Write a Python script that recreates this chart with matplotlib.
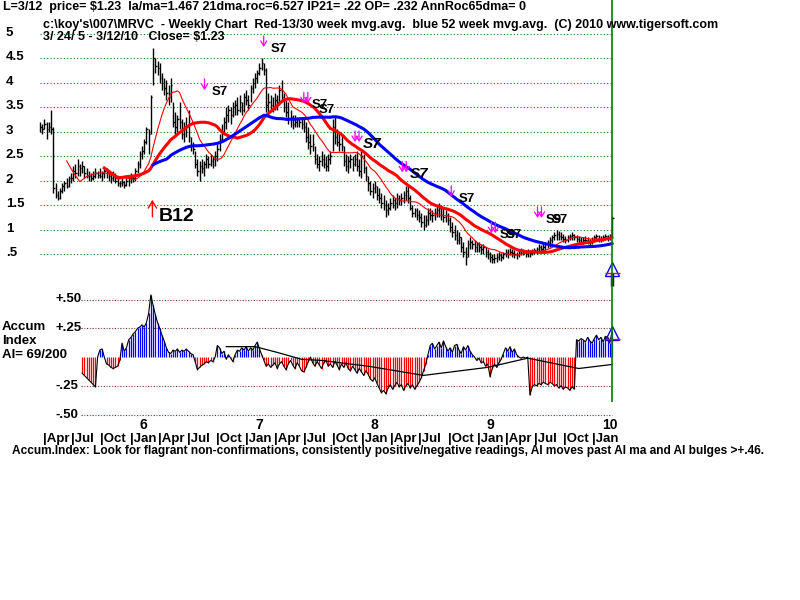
import numpy as np
import pandas as pd
import matplotlib
matplotlib.use("Agg")
import matplotlib.pyplot as plt
import matplotlib.transforms as mtransforms

plt.rcParams['font.family'] = ['Liberation Sans', 'DejaVu Sans']
plt.rcParams['font.weight'] = 'bold'

# weekly bars, 3/24/05 - 3/12/10
start = pd.Timestamp('2005-03-24')

highs = [
    3.20, 3.15, 3.25, 3.20, 3.20, 3.45, 3.10, 1.95, 1.80, 1.85,
    1.95, 2.00, 2.05, 2.10, 2.15, 2.30, 2.35, 2.45, 2.35, 2.40,
    2.30, 2.25, 2.20, 2.15, 2.20, 2.25, 2.20, 2.25, 2.20, 2.25,
    2.25, 2.20, 2.15, 2.20, 2.15, 2.05, 2.00, 2.05, 2.00, 2.05,
    2.10, 2.15, 2.10, 2.25, 2.40, 2.60, 2.70, 2.85, 3.10, 3.05,
    3.75, 4.70, 4.50, 4.45, 4.40, 4.20, 4.10, 4.05, 3.95, 4.10,
    3.60, 3.40, 3.35, 3.60, 3.25, 3.20, 3.30, 3.45, 2.90, 2.80,
    2.60, 2.45, 2.40, 2.45, 2.40, 2.55, 2.50, 2.55, 2.50, 2.60,
    2.75, 2.95, 3.15, 3.30, 3.50, 3.55, 3.50, 3.60, 3.65, 3.70,
    3.75, 3.60, 3.80, 3.85, 3.75, 3.95, 4.10, 4.20, 4.25, 4.40,
    4.50, 4.40, 4.30, 3.80, 3.75, 3.70, 3.80, 3.75, 3.95, 4.05,
    3.80, 3.65, 3.60, 3.45, 3.35, 3.35, 3.30, 3.30, 3.30, 3.25,
    3.20, 3.10, 2.95, 2.95, 2.70, 2.55, 2.50, 2.60, 2.55, 2.50,
    2.55, 2.60, 3.25, 3.30, 3.05, 3.00, 2.95, 2.70, 2.55, 2.50,
    2.55, 2.50, 2.55, 2.60, 2.45, 2.60, 2.55, 2.30, 2.10, 2.00,
    1.95, 2.00, 1.90, 1.85, 1.75, 1.70, 1.60, 1.55, 1.65, 1.70,
    1.65, 1.75, 1.70, 1.75, 1.80, 1.90, 1.90, 1.70, 1.50, 1.45,
    1.45, 1.40, 1.35, 1.30, 1.30, 1.45, 1.45, 1.40, 1.45, 1.50,
    1.55, 1.50, 1.45, 1.40, 1.35, 1.25, 1.15, 1.10, 1.00, 0.95,
    0.85, 0.75, 0.65, 0.80, 0.85, 0.80, 0.80, 0.75, 0.75, 0.70,
    0.70, 0.65, 0.60, 0.55, 0.50, 0.50, 0.52, 0.55, 0.52, 0.55,
    0.60, 0.60, 0.62, 0.60, 0.58, 0.55, 0.60, 0.62, 0.60, 0.58,
    0.60, 0.58, 0.60, 0.62, 0.65, 0.70, 0.68, 0.72, 0.75, 0.80,
    0.85, 0.90, 0.95, 1.00, 0.98, 0.95, 0.92, 0.88, 0.90, 0.92,
    0.95, 0.92, 0.90, 0.88, 0.85, 0.85, 0.88, 0.85, 0.82, 0.85,
    0.90, 0.92, 0.90, 0.88, 0.90, 0.92, 0.90, 0.92, 1.28]

lows = [
    3.00, 2.95, 3.05, 2.85, 3.00, 2.95, 1.75, 1.65, 1.60, 1.62,
    1.75, 1.80, 1.85, 1.88, 1.95, 2.00, 2.05, 2.10, 2.10, 2.15,
    2.05, 2.05, 2.00, 2.00, 2.02, 2.05, 2.05, 2.05, 2.00, 2.05,
    2.05, 2.00, 1.95, 2.00, 1.95, 1.90, 1.88, 1.90, 1.85, 1.90,
    1.90, 1.95, 1.98, 2.00, 2.15, 2.25, 2.45, 2.55, 2.75, 2.55,
    2.95, 3.95, 4.20, 4.15, 4.00, 3.85, 3.75, 3.65, 3.55, 3.60,
    3.10, 2.95, 3.00, 3.05, 2.85, 2.80, 2.90, 2.80, 2.60, 2.55,
    2.25, 2.10, 2.00, 2.15, 2.10, 2.25, 2.25, 2.30, 2.25, 2.30,
    2.40, 2.60, 2.80, 2.95, 3.05, 3.20, 3.15, 3.30, 3.35, 3.35,
    3.40, 3.35, 3.40, 3.55, 3.45, 3.60, 3.80, 3.90, 4.00, 4.15,
    4.25, 4.15, 3.40, 3.40, 3.45, 3.40, 3.45, 3.45, 3.55, 3.60,
    3.40, 3.30, 3.15, 3.10, 3.05, 3.10, 3.10, 3.10, 3.05, 3.00,
    2.80, 2.65, 2.55, 2.60, 2.35, 2.25, 2.20, 2.30, 2.25, 2.20,
    2.20, 2.35, 2.60, 2.75, 2.70, 2.60, 2.60, 2.30, 2.20, 2.15,
    2.25, 2.20, 2.30, 2.20, 2.10, 2.05, 2.15, 2.00, 1.80, 1.70,
    1.65, 1.75, 1.60, 1.55, 1.45, 1.40, 1.25, 1.30, 1.40, 1.45,
    1.40, 1.45, 1.50, 1.50, 1.55, 1.60, 1.55, 1.40, 1.25, 1.25,
    1.20, 1.15, 1.05, 1.00, 1.05, 1.10, 1.20, 1.15, 1.20, 1.25,
    1.25, 1.20, 1.15, 1.15, 1.10, 0.95, 0.85, 0.80, 0.70, 0.70,
    0.55, 0.45, 0.28, 0.45, 0.60, 0.60, 0.55, 0.55, 0.55, 0.50,
    0.50, 0.45, 0.40, 0.35, 0.32, 0.33, 0.35, 0.38, 0.36, 0.40,
    0.45, 0.42, 0.48, 0.45, 0.42, 0.40, 0.45, 0.48, 0.48, 0.45,
    0.45, 0.45, 0.48, 0.50, 0.50, 0.55, 0.52, 0.55, 0.58, 0.62,
    0.65, 0.72, 0.78, 0.80, 0.80, 0.78, 0.75, 0.72, 0.75, 0.78,
    0.80, 0.78, 0.75, 0.72, 0.70, 0.70, 0.72, 0.70, 0.68, 0.70,
    0.74, 0.78, 0.75, 0.75, 0.76, 0.78, 0.76, 0.80, 0.88]

closes = [
    3.10, 3.05, 3.15, 3.05, 3.10, 3.05, 1.85, 1.70, 1.65, 1.80,
    1.90, 1.95, 1.90, 2.05, 2.05, 2.20, 2.15, 2.30, 2.25, 2.30,
    2.15, 2.10, 2.10, 2.05, 2.10, 2.15, 2.12, 2.10, 2.15, 2.20,
    2.15, 2.10, 2.05, 2.10, 2.00, 1.95, 1.95, 1.98, 1.92, 2.00,
    2.05, 2.05, 2.05, 2.20, 2.35, 2.55, 2.60, 2.80, 3.05, 2.95,
    3.70, 4.50, 4.35, 4.30, 4.10, 4.00, 3.90, 3.80, 3.70, 3.95,
    3.20, 3.10, 3.25, 3.20, 2.95, 3.05, 3.10, 2.90, 2.70, 2.65,
    2.35, 2.20, 2.30, 2.25, 2.35, 2.45, 2.35, 2.40, 2.45, 2.50,
    2.65, 2.85, 3.00, 3.20, 3.35, 3.45, 3.35, 3.50, 3.55, 3.45,
    3.60, 3.45, 3.70, 3.65, 3.55, 3.90, 4.00, 4.10, 4.20, 4.30,
    4.40, 4.25, 3.55, 3.60, 3.55, 3.50, 3.65, 3.60, 3.85, 3.70,
    3.50, 3.40, 3.25, 3.30, 3.15, 3.20, 3.25, 3.20, 3.15, 3.10,
    2.90, 2.80, 2.70, 2.75, 2.45, 2.35, 2.40, 2.45, 2.35, 2.30,
    2.45, 2.50, 3.10, 2.90, 2.80, 2.75, 2.70, 2.40, 2.30, 2.40,
    2.45, 2.35, 2.45, 2.30, 2.20, 2.50, 2.25, 2.10, 1.95, 1.80,
    1.85, 1.90, 1.70, 1.65, 1.55, 1.50, 1.40, 1.45, 1.55, 1.60,
    1.55, 1.65, 1.60, 1.65, 1.70, 1.80, 1.65, 1.45, 1.35, 1.40,
    1.30, 1.25, 1.15, 1.10, 1.20, 1.35, 1.30, 1.30, 1.35, 1.40,
    1.45, 1.30, 1.25, 1.30, 1.20, 1.05, 0.95, 0.90, 0.80, 0.85,
    0.65, 0.55, 0.45, 0.70, 0.75, 0.70, 0.65, 0.70, 0.65, 0.60,
    0.65, 0.55, 0.50, 0.45, 0.40, 0.42, 0.45, 0.48, 0.45, 0.50,
    0.55, 0.50, 0.55, 0.52, 0.50, 0.48, 0.55, 0.58, 0.55, 0.52,
    0.55, 0.52, 0.55, 0.58, 0.60, 0.65, 0.60, 0.65, 0.70, 0.75,
    0.78, 0.85, 0.90, 0.92, 0.88, 0.85, 0.82, 0.80, 0.85, 0.88,
    0.90, 0.85, 0.82, 0.78, 0.75, 0.78, 0.80, 0.76, 0.75, 0.78,
    0.85, 0.88, 0.82, 0.80, 0.85, 0.88, 0.84, 0.88, 1.23]

# Accumulation index, starts at week 19
ai_first_week = 19
ai_vals = [
    -0.14, -0.16, -0.18, -0.20, -0.22, -0.24, -0.26, 0.00, 0.06, 0.07,
    0.00, -0.06, -0.07, -0.09, -0.10, -0.09, -0.08, -0.03, 0.12, 0.05,
    0.08, 0.15, 0.17, 0.20, 0.22, 0.25, 0.26, 0.28, 0.26, 0.30,
    0.38, 0.54, 0.45, 0.37, 0.30, 0.25, 0.19, 0.14, 0.08, 0.04,
    0.03, 0.06, 0.05, 0.07, 0.04, 0.06, 0.05, 0.07, 0.05, 0.03,
    0.02, -0.04, -0.11, -0.09, -0.07, -0.06, -0.04, -0.05, -0.03, -0.04,
    0.00, 0.10, 0.08, 0.03, 0.05, -0.02, 0.02, -0.01, -0.04, 0.02,
    0.06, 0.05, 0.08, 0.06, 0.09, 0.05, 0.08, 0.06, 0.10, 0.13,
    0.07, 0.02, -0.03, -0.08, -0.06, -0.09, -0.07, -0.05, -0.10, -0.06,
    -0.04, -0.08, -0.11, -0.06, -0.03, -0.07, -0.10, -0.05, -0.08, -0.12,
    -0.13, -0.09, -0.04, 0.00, -0.05, -0.08, -0.04, -0.07, -0.10, -0.05,
    -0.03, -0.08, -0.06, -0.09, -0.04, -0.07, -0.11, -0.06, -0.09, -0.05,
    -0.10, -0.12, -0.08, -0.11, -0.14, -0.10, -0.13, -0.16, -0.12, -0.15,
    -0.19, -0.21, -0.18, -0.23, -0.27, -0.31, -0.29, -0.32, -0.27, -0.24,
    -0.28, -0.25, -0.22, -0.26, -0.24, -0.29, -0.25, -0.23, -0.27, -0.24,
    -0.28, -0.25, -0.22, -0.18, -0.12, -0.06, 0.02, 0.10, 0.12, 0.07,
    0.10, 0.13, 0.08, 0.14, 0.09, 0.05, 0.08, 0.04, 0.10, 0.11,
    0.06, 0.03, 0.09, 0.06, 0.10, 0.05, 0.02, 0.00, -0.03, -0.01,
    -0.05, -0.04, -0.08, -0.06, -0.17, -0.10, -0.06, -0.09, -0.05, -0.02,
    0.03, 0.08, 0.05, 0.09, 0.04, 0.07, 0.02, 0.00, -0.01, 0.00,
    -0.01, 0.00, -0.33, -0.26, -0.24, -0.25, -0.23, -0.24, -0.22, -0.23,
    -0.24, -0.22, -0.23, -0.25, -0.24, -0.27, -0.25, -0.28, -0.26, -0.27,
    -0.29, -0.26, -0.28, 0.15, 0.14, 0.16, 0.15, 0.13, 0.17, 0.14,
    0.12, 0.16, 0.19, 0.15, 0.17, 0.13, 0.18, 0.17, 0.12, 0.22]

ai_ma_weeks = [84, 97, 107, 118, 127, 148, 173, 202, 220, 243, 258]
ai_ma_vals = [0.09, 0.09, 0.04, -0.02, -0.03, -0.08, -0.16, -0.09, -0.01, -0.10, -0.065]

price_levels = [5, 4.5, 4, 3.5, 3, 2.5, 2, 1.5, 1, 0.5]
price_labels = ['5', '4.5', '4', '3.5', '3', '2.5', '2', '1.5', '1', '.5']
ai_levels = [0.5, 0.25, -0.25, -0.5]
ai_labels = ['+.50', '+.25', '-.25', '-.50']

# sell / buy signals (week, price)
sig_weeks = [100.9, 74.2, 119.9, 143.0, 164.3, 185.5, 204.5, 225.3]
sig_prices = [4.73, 3.85, 3.58, 2.79, 2.17, 1.67, 0.93, 1.24]
sig_names = ['S7', 'S7', 'S7/S7', 'S7', 'S7', 'S7', 'S9/S7', 'S9/S7']
sig_double = [False, False, True, True, True, False, True, True]
sig_heavy = [False, False, False, True, True, False, False, False]
buy_week, buy_price, buy_name = 50.7, 1.61, 'B12'

price_mark_level = 0.15
ai_mark_level = 0.18

header1 = "L=3/12  price= $1.23  la/ma=1.467 21dma.roc=6.527 IP21= .22 OP= .232 AnnRoc65dma= 0"
header2 = ("c:\\koy's\\007\\MRVC  - Weekly Chart  Red-13/30 week mvg.avg.  "
           "blue 52 week mvg.avg.  (C) 2010 www.tigersoft.com")
header3 = "3/ 24/ 5 - 3/12/10   Close= $1.23"
footer = ("Accum.Index: Look for flagrant non-confirmations, consistently positive/negative "
          "readings, AI moves past AI ma and AI bulges >+.46.")

n = len(closes)
weeks = np.arange(n)
cl = pd.Series(closes)
ma13 = cl.rolling(13).mean()
ma30 = cl.rolling(30).mean()
ma52 = cl.rolling(52).mean()

ai = np.full(n, np.nan)
ai[ai_first_week:] = ai_vals

W, H = 800, 600
pxw = 2.217          # pixels per week
x0 = 40              # pixel of first week
xlim = ((0 - x0) / pxw, (W - x0) / pxw)


def fx(x):
    return x / W


def fy(y):
    return 1 - y / H


def pt(p):
    return p * 0.72


fig = plt.figure(figsize=(8, 6), dpi=100)
fig.patch.set_facecolor('white')

# price panel: y pixel 30..290, 49 px per dollar, $0 at y=278.7
ax = fig.add_axes([0, fy(290), 1, 260 / H])
ax.set_xlim(xlim)
ax.set_ylim((278.7 - 290) / 49, (278.7 - 30) / 49)
ax.axis('off')
ax.patch.set_alpha(0)

ax.hlines(price_levels, 0, n - 1, colors='#008000', lw=0.8, linestyles=(0, (1, 2)))
ax.vlines(weeks, lows, highs, colors='black', lw=1.0)
ax.hlines(closes, weeks, weeks + 0.7, colors='black', lw=1.0)
ax.plot(weeks, ma13, color='#ff0000', lw=0.8)
ax.plot(weeks, ma30, color='#ff0000', lw=2.2)
ax.plot(weeks, ma52, color='#0000ff', lw=2.2)

trans_p = mtransforms.blended_transform_factory(fig.transFigure, ax.transData)
for lv, lb in zip(price_levels, price_labels):
    ax.text(fx(6), lv + 0.02, lb, transform=trans_p, ha='left', va='center',
            fontsize=9.5, fontweight='bold')

for w, p, name, dbl, heavy in zip(sig_weeks, sig_prices, sig_names, sig_double, sig_heavy):
    xs = [w - 0.9, w + 0.9] if dbl else [w]
    for xw in xs:
        ax.annotate('', xy=(xw, p), xytext=(0, pt(11)), textcoords='offset points',
                    arrowprops=dict(arrowstyle='->,head_length=0.35,head_width=0.22',
                                    color='#ff00ff', lw=0.9, shrinkA=0, shrinkB=0))
    parts = name.split('/')
    dx0 = 6 if dbl else 7
    for k, part in enumerate(parts):
        if k == 0:
            dx, dy = dx0, -2
        elif part == parts[0]:
            dx, dy = dx0 + 7, -7
        else:
            dx, dy = dx0 + 6, -2
        ax.annotate(part, xy=(w, p), xytext=(pt(dx), pt(dy)), textcoords='offset points',
                    ha='left', va='center', fontweight='bold',
                    fontsize=11 if heavy else 9.5,
                    fontstyle='italic' if heavy else 'normal')

ax.annotate('', xy=(buy_week, buy_price), xytext=(0, pt(-17)), textcoords='offset points',
            arrowprops=dict(arrowstyle='->,head_length=0.5,head_width=0.3',
                            color='#ff0000', lw=1.0, shrinkA=0, shrinkB=0))
ax.annotate(buy_name, xy=(buy_week, buy_price), xytext=(pt(6), pt(-17)),
            textcoords='offset points', ha='left', va='center',
            fontsize=14, fontweight='bold')

ax.vlines(n - 1, price_mark_level - 0.3, price_mark_level - 0.03, colors='#202020', lw=2.5)
ax.plot([n - 1], [price_mark_level + 0.04], marker='^', ms=10, mfc='none', mec='#0000ff', mew=1.0)
ax.hlines(price_mark_level - 0.03, n - 4, n + 2.5, colors='#ff0000', lw=1.0)

# accumulation index panel: zero at y=357, 115 px per unit
ax2 = fig.add_axes([0, fy(420), 1, 135 / H])
ax2.set_xlim(xlim)
ax2.set_ylim((357 - 420) / 115, (357 - 285) / 115)
ax2.axis('off')
ax2.patch.set_alpha(0)

ax2.hlines(ai_levels, ai_first_week - 0.6, n - 1, colors='#303030', lw=0.8,
           linestyles=(0, (1, 4)))
ax2.hlines(ai_levels, ai_first_week - 0.6, n - 1, colors='#d04040', lw=0.8,
           linestyles=(2.5, (1, 4)))
pos = np.where(ai > 0, ai, np.nan)
neg = np.where(ai < 0, ai, np.nan)
ax2.vlines(weeks, 0, pos, colors='#0000ff', lw=0.9)
ax2.vlines(weeks, 0, neg, colors='#ff0000', lw=0.9)
ax2.plot(weeks, ai, color='black', lw=0.8)
ax2.plot(ai_ma_weeks, ai_ma_vals, color='black', lw=0.9)
ax2.plot([n - 1], [ai_mark_level + 0.03], marker='^', ms=10, mfc='none', mec='#0000ff', mew=1.0)
ax2.hlines(ai_mark_level - 0.02, n - 4, n + 2.5, colors='#ff0000', lw=1.0)

trans_a = mtransforms.blended_transform_factory(fig.transFigure, ax2.transData)
for lv, lb in zip(ai_levels, ai_labels):
    ax2.text(fx(55), lv, lb, transform=trans_a, ha='left', va='center',
             fontsize=9.5, fontweight='bold')

# overlay for the time axis and the right edge line
base = fig.add_axes([0, 0, 1, 1])
base.set_xlim(xlim)
base.set_ylim(H, 0)
base.axis('off')
base.patch.set_alpha(0)
base.vlines(n - 1, 0, 402, colors='#008000', lw=1.2)

months = pd.date_range('2005-04-01', '2010-01-01', freq='QS')
for d in months:
    wk = (d - start).days / 7
    base.text(wk, 439, '|' + d.strftime('%b'), ha='left', va='center',
              fontsize=9.5, fontweight='bold')
    if d.month == 1:
        base.text(wk + 4.5, 425, str(d.year - 2000), ha='left', va='center',
                  fontsize=10, fontweight='bold')

fig.text(fx(3), fy(7), header1, ha='left', va='center', fontsize=9, fontweight='bold')
fig.text(fx(43), fy(25), header2, ha='left', va='center', fontsize=9, fontweight='bold')
fig.text(fx(43), fy(37), header3, ha='left', va='center', fontsize=9, fontweight='bold')
fig.text(fx(2), fy(327), 'Accum', ha='left', va='center', fontsize=9.5, fontweight='bold')
fig.text(fx(2), fy(341), 'Index', ha='left', va='center', fontsize=9.5, fontweight='bold')
fig.text(fx(2), fy(355), 'AI= 69/200', ha='left', va='center', fontsize=9.5, fontweight='bold')
fig.text(fx(12), fy(451), footer, ha='left', va='center', fontsize=8.6, fontweight='bold')

fig.savefig('out.png', dpi=100, facecolor='white')
